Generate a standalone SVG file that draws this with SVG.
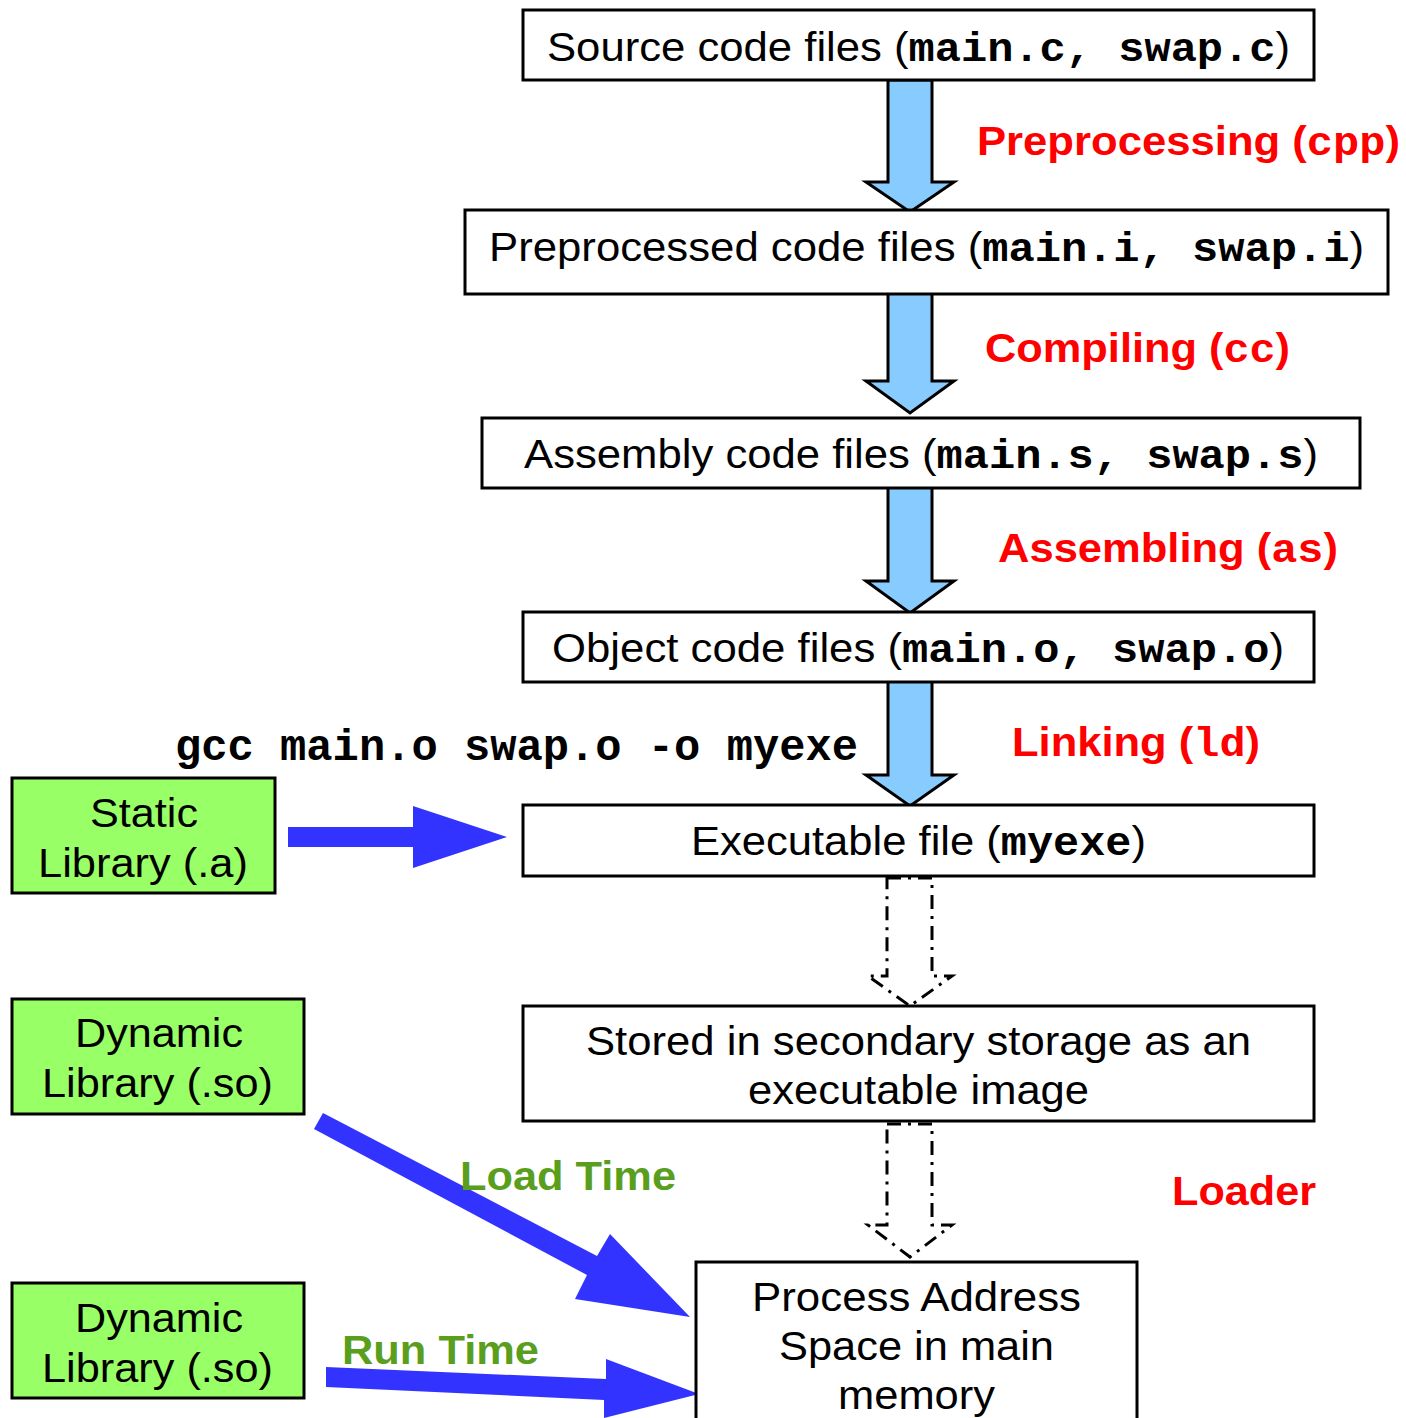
<svg xmlns="http://www.w3.org/2000/svg" width="1406" height="1418" viewBox="0 0 1406 1418">
<style>
.box{fill:#fff;stroke:#000;stroke-width:3}
.lib{fill:#99FF66;stroke:#000;stroke-width:3}
.t{font-family:"Liberation Sans",Arial,sans-serif;font-size:41px;fill:#000}
.m{font-family:"Liberation Mono","Courier New",monospace;font-weight:bold}
.red{font-family:"Liberation Sans",Arial,sans-serif;font-size:40px;font-weight:bold;fill:#FF0000}
.grn{font-family:"Liberation Sans",Arial,sans-serif;font-size:40px;font-weight:bold;fill:#5A9E1E}
.blk{fill:#88CCFF;stroke:#000;stroke-width:3;stroke-linejoin:miter}
.dash{fill:none;stroke:#000;stroke-width:3;stroke-dasharray:14,7,3,7}
.blue{fill:#3333FF}
</style>
<g id="connectors">
<path class="blk" d="M888,80 L932,80 L932,182 L954,182 L910,212 L866,182 L888,182 Z"/>
<path class="blk" d="M888,282 L932,282 L932,381 L954,381 L910,413 L866,381 L888,381 Z"/>
<path class="blk" d="M888,483 L932,483 L932,581 L954,581 L910,613 L866,581 L888,581 Z"/>
<path class="blk" d="M888,676 L932,676 L932,775 L954,775 L910,806 L866,775 L888,775 Z"/>
<path class="dash" d="M887,878 L932,878 L932,976 L952,976 L910,1006 L868,976 L887,976 Z"/>
<path class="dash" d="M887,1124 L932,1124 L932,1225 L952,1225 L910,1257 L868,1225 L887,1225 Z"/>
<path class="blue" d="M288,827 L413,827 L413,806 L507,837 L413,868 L413,847 L288,847 Z"/>
<path class="blue" d="M314,1129 L323,1113 L597,1256 L610,1234 L690,1317 L575,1299 L587,1275 Z"/>
<path class="blue" d="M326,1367 L606,1379 L606,1359 L699,1394 L604,1418 L604,1400 L326,1387 Z"/>
</g>
<g id="source">
<rect class="box" x="523" y="10" width="791" height="70"/>
<text class="t" x="547" y="61" textLength="743" lengthAdjust="spacingAndGlyphs">Source code files (<tspan class="m">main.c, swap.c</tspan>)</text>
</g>
<g id="preprocessed">
<rect class="box" x="465" y="210" width="923" height="84"/>
<text class="t" x="489" y="261" textLength="875" lengthAdjust="spacingAndGlyphs">Preprocessed code files (<tspan class="m">main.i, swap.i</tspan>)</text>
</g>
<g id="assembly">
<rect class="box" x="482" y="418" width="878" height="70"/>
<text class="t" x="524" y="468" textLength="794" lengthAdjust="spacingAndGlyphs">Assembly code files (<tspan class="m">main.s, swap.s</tspan>)</text>
</g>
<g id="object">
<rect class="box" x="523" y="612" width="791" height="70"/>
<text class="t" x="552" y="662" textLength="732" lengthAdjust="spacingAndGlyphs">Object code files (<tspan class="m">main.o, swap.o</tspan>)</text>
</g>
<g id="executable">
<rect class="box" x="523" y="805" width="791" height="71"/>
<text class="t" x="691" y="855" textLength="455" lengthAdjust="spacingAndGlyphs">Executable file (<tspan class="m">myexe</tspan>)</text>
</g>
<g id="stored">
<rect class="box" x="523" y="1006" width="791" height="115"/>
<text class="t" x="586" y="1055" textLength="665" lengthAdjust="spacingAndGlyphs">Stored in secondary storage as an</text>
<text class="t" x="748" y="1104" textLength="341" lengthAdjust="spacingAndGlyphs">executable image</text>
</g>
<g id="process">
<rect class="box" x="696" y="1262" width="441" height="200"/>
<text class="t" x="752" y="1311" textLength="329" lengthAdjust="spacingAndGlyphs">Process Address</text>
<text class="t" x="779" y="1360" textLength="275" lengthAdjust="spacingAndGlyphs">Space in main</text>
<text class="t" x="838" y="1409" textLength="157" lengthAdjust="spacingAndGlyphs">memory</text>
</g>
<g id="static-lib">
<rect class="lib" x="12" y="778" width="263" height="115"/>
<text class="t" x="90" y="827" textLength="108" lengthAdjust="spacingAndGlyphs">Static</text>
<text class="t" x="38" y="877" textLength="210" lengthAdjust="spacingAndGlyphs">Library (.a)</text>
</g>
<g id="dynamic-lib-1">
<rect class="lib" x="12" y="999" width="292" height="115"/>
<text class="t" x="75" y="1047" textLength="168" lengthAdjust="spacingAndGlyphs">Dynamic</text>
<text class="t" x="42" y="1097" textLength="231" lengthAdjust="spacingAndGlyphs">Library (.so)</text>
</g>
<g id="dynamic-lib-2">
<rect class="lib" x="12" y="1283" width="292" height="115"/>
<text class="t" x="75" y="1332" textLength="168" lengthAdjust="spacingAndGlyphs">Dynamic</text>
<text class="t" x="42" y="1382" textLength="231" lengthAdjust="spacingAndGlyphs">Library (.so)</text>
</g>
<g id="labels">
<text class="red" x="977" y="155" textLength="423" lengthAdjust="spacingAndGlyphs">Preprocessing (<tspan class="m">cpp</tspan>)</text>
<text class="red" x="985" y="362" textLength="305" lengthAdjust="spacingAndGlyphs">Compiling (<tspan class="m">cc</tspan>)</text>
<text class="red" x="998" y="562" textLength="340" lengthAdjust="spacingAndGlyphs">Assembling (<tspan class="m">as</tspan>)</text>
<text class="red" x="1012" y="756" textLength="248" lengthAdjust="spacingAndGlyphs">Linking (<tspan class="m">ld</tspan>)</text>
<text class="red" x="1172" y="1205" textLength="144" lengthAdjust="spacingAndGlyphs">Loader</text>
<text class="m" x="175" y="760" font-size="44" textLength="683" lengthAdjust="spacingAndGlyphs">gcc main.o swap.o -o myexe</text>
<text class="grn" x="460" y="1190" textLength="216" lengthAdjust="spacingAndGlyphs">Load Time</text>
<text class="grn" x="342" y="1364" textLength="197" lengthAdjust="spacingAndGlyphs">Run Time</text>
</g>
</svg>
